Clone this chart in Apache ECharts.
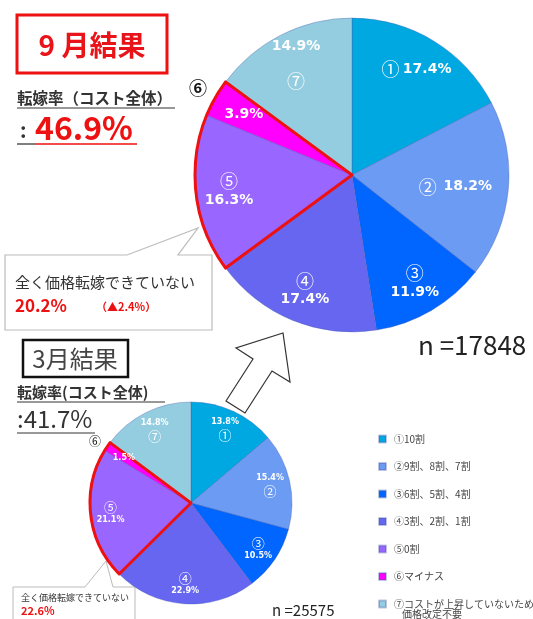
<!DOCTYPE html>
<html>
<head>
<meta charset="utf-8">
<script src="https://cdn.jsdelivr.net/npm/echarts@6/dist/echarts.min.js"></script>
<style>
  html, body { margin: 0; padding: 0; background: #fff; }
  #chart { width: 533px; height: 619px; }
</style>
</head>
<body>
<div id="chart"></div>
<script>
// 区分
const categories = ['①10割', '②9割、8割、7割', '③6割、5割、4割', '④3割、2割、1割', '⑤0割', '⑥マイナス', '⑦コストが上昇していないため価格改定不要']
const marks = ['①', '②', '③', '④', '⑤', '⑥', '⑦']
// 9月結果 (n=17848)
const sepValues = [17.4, 18.2, 11.9, 17.4, 16.3, 3.9, 14.9]
// 3月結果 (n=25575)
const marValues = [13.8, 15.4, 10.5, 22.9, 21.1, 1.5, 14.8]
const colors = ['#00a8e2', '#6b9bf3', '#0066ff', '#6666f0', '#9966ff', '#ff00ff', '#95cde0']

const JP = '"Noto Sans CJK JP", sans-serif'
const LBL = '"DejaVu Sans", "Noto Sans CJK JP", sans-serif'

// label layouts ({c}=丸数字, {p}=percent)
const sepFmt = ['{c|#} {p|%}', '{c|#}  {p|%}', '{c|#}\n{p|%}', '{c|#}\n{p|%}', '{c|#}\n{p|%}', '{p|%}', '{p|%}\n\n{c|#}']
const marFmt = ['{p|%}\n{c|#}', '{p|%}\n{c|#}', '{c|#}\n{p|%}', '{c|#}\n{p|%}', '{c|#}\n{p|%}', '{p|%}', '{p|%}\n{c|#}']

function fillPie(values, center, r) {
  return {
    type: 'pie', center: center, radius: [0, r], silent: true,
    label: { show: false }, labelLine: { show: false },
    itemStyle: { borderColor: 'rgba(70,90,170,0.35)', borderWidth: 1 },
    data: values.map((v, i) => ({ name: categories[i], value: v, itemStyle: { color: colors[i] } }))
  }
}

function labelRing(values, center, r0, r, fmt, ps, cs, shift) {
  return {
    type: 'pie', center: center, radius: [r0, r], silent: true,
    itemStyle: { color: 'rgba(0,0,0,0)' },
    labelLine: { show: false },
    label: {
      show: true, position: 'inside', lineHeight: ps + 2,
      formatter: p => fmt[p.dataIndex].replace('#', marks[p.dataIndex]).replace('%', p.value.toFixed(1) + '%'),
      rich: {
        p: { color: '#fff', fontWeight: 'bold', fontSize: ps, fontFamily: LBL, lineHeight: ps + 3 },
        c: { color: '#fff', fontSize: cs, fontFamily: JP, lineHeight: cs + 2 }
      }
    },
    data: values.map((v, i) => ({
      name: categories[i], value: v,
      label: shift && shift[i] ? { padding: shift[i] } : undefined
    }))
  }
}

// ⑤+⑥ を赤枠で囲む
function outlinePie(values, center, r) {
  const a = values.slice(0, 4).reduce((s, v) => s + v, 0)
  const b = values[4] + values[5]
  return {
    type: 'pie', center: center, radius: [0, r], silent: true,
    label: { show: false }, labelLine: { show: false },
    data: [
      { name: 'o1', value: a, itemStyle: { color: 'rgba(0,0,0,0)', borderWidth: 0 } },
      { name: 'o2', value: b, itemStyle: { color: 'rgba(0,0,0,0)', borderColor: '#ee1111', borderWidth: 3 } },
      { name: 'o3', value: values[6], itemStyle: { color: 'rgba(0,0,0,0)', borderWidth: 0 } }
    ]
  }
}

const bigC = [352, 175], bigR = 157
const smC = [191, 503], smR = 101

let mycharts = echarts.init(document.getElementById('chart'))
let option = {
  backgroundColor: '#fff',
  animation: false,
  legend: {
    orient: 'vertical', left: 373, top: 427,
    itemWidth: 7, itemHeight: 7, itemGap: 13.5,
    icon: 'rect', selectedMode: false,
    formatter: name => name.indexOf('⑦') === 0 ? '⑦コストが上昇していないため' : name,
    textStyle: { fontSize: 10, color: '#444', fontFamily: JP, lineHeight: 14, padding: [0, 0, 0, 3] },
    data: categories.map((c, i) => ({ name: c, itemStyle: { color: colors[i] } }))
  },
  series: [
    fillPie(sepValues, bigC, bigR),
    labelRing(sepValues, bigC, 85, bigR, sepFmt, 14, 18, { 1: [0, 40, 0, 0] }),
    outlinePie(sepValues, bigC, bigR),
    fillPie(marValues, smC, smR),
    labelRing(marValues, smC, 55, smR, marFmt, 8, 13),
    outlinePie(marValues, smC, smR)
  ],
  graphic: [
    // 9月結果
    { type: 'rect', shape: { x: 17, y: 15, width: 150, height: 58 }, style: { fill: 'none', stroke: '#ee1111', lineWidth: 3 } },
    { type: 'text', x: 92, y: 45, style: { text: '9 月結果', font: 'bold 28px ' + JP, fill: '#e8141a', align: 'center', verticalAlign: 'middle' } },
    { type: 'text', x: 17, y: 98, style: { text: '転嫁率（コスト全体）', font: 'bold 15.5px ' + JP, fill: '#333', verticalAlign: 'middle' } },
    { type: 'line', shape: { x1: 17, y1: 108, x2: 175, y2: 108 }, style: { stroke: '#333', lineWidth: 1 } },
    { type: 'text', x: 20, y: 130, style: { text: ':', font: 'bold 20px ' + JP, fill: '#333', verticalAlign: 'middle' } },
    { type: 'text', x: 35, y: 128, style: { text: '46.9%', font: 'bold 32px ' + JP, fill: '#ee1111', verticalAlign: 'middle' } },
    { type: 'line', shape: { x1: 17, y1: 144, x2: 35, y2: 144 }, style: { stroke: '#555', lineWidth: 1.5 } },
    { type: 'line', shape: { x1: 35, y1: 144, x2: 137, y2: 144 }, style: { stroke: '#ee1111', lineWidth: 1.5 } },
    { type: 'text', x: 198, y: 88, style: { text: '⑥', font: 'bold 18px ' + JP, fill: '#111', align: 'center', verticalAlign: 'middle' } },
    // 吹き出し (9月)
    { type: 'polygon', shape: { points: [[5, 255], [127, 255], [198, 228], [178, 255], [212, 255], [212, 330], [5, 330]] }, style: { fill: '#fff', stroke: '#bbb', lineWidth: 1.2 } },
    { type: 'text', x: 15, y: 282, style: { text: '全く価格転嫁できていない', font: '15px ' + JP, fill: '#333', verticalAlign: 'middle' } },
    { type: 'text', x: 15, y: 306, style: { text: '20.2%', font: 'bold 17px ' + JP, fill: '#ee1111', verticalAlign: 'middle' } },
    { type: 'text', x: 96, y: 307, style: { text: '（▲2.4%）', font: 'bold 11px ' + JP, fill: '#ee1111', verticalAlign: 'middle' } },
    { type: 'text', x: 418, y: 345, style: { text: 'n =17848', font: '26px ' + JP, fill: '#222', verticalAlign: 'middle' } },
    // 矢印
    { type: 'polygon', shape: { points: [[283, 333], [290, 382], [272, 371], [245, 413], [226, 401], [253, 359], [236, 348]] }, style: { fill: '#fff', stroke: '#333', lineWidth: 1.2 } },
    // 3月結果
    { type: 'rect', shape: { x: 23, y: 340, width: 105, height: 37 }, style: { fill: 'none', stroke: '#111', lineWidth: 2.5 } },
    { type: 'text', x: 75, y: 359, style: { text: '3月結果', font: '24px ' + JP, fill: '#444', align: 'center', verticalAlign: 'middle' } },
    { type: 'text', x: 17, y: 392, style: { text: '転嫁率(コスト全体)', font: 'bold 15px ' + JP, fill: '#333', verticalAlign: 'middle' } },
    { type: 'line', shape: { x1: 17, y1: 402, x2: 165, y2: 402 }, style: { stroke: '#333', lineWidth: 1 } },
    { type: 'text', x: 17, y: 419, style: { text: ':41.7%', font: '24px ' + JP, fill: '#333', verticalAlign: 'middle' } },
    { type: 'line', shape: { x1: 17, y1: 433, x2: 95, y2: 433 }, style: { stroke: '#333', lineWidth: 1 } },
    { type: 'text', x: 95, y: 441, style: { text: '⑥', font: '12px ' + JP, fill: '#111', align: 'center', verticalAlign: 'middle' } },
    // 吹き出し (3月)
    { type: 'polygon', shape: { points: [[13, 587], [85, 587], [106, 561], [113, 587], [135, 587], [135, 625], [13, 625]] }, style: { fill: '#fff', stroke: '#bbb', lineWidth: 1 } },
    { type: 'text', x: 21, y: 598, style: { text: '全く価格転嫁できていない', font: '9px ' + JP, fill: '#333', verticalAlign: 'middle' } },
    { type: 'text', x: 21, y: 611, style: { text: '22.6%', font: 'bold 11px ' + JP, fill: '#ee1111', verticalAlign: 'middle' } },
    { type: 'text', x: 272, y: 610, style: { text: 'n =25575', font: '15px ' + JP, fill: '#222', verticalAlign: 'middle' } },
    // 凡例⑦の2行目
    { type: 'text', x: 402, y: 614, style: { text: '価格改定不要', font: '10px ' + JP, fill: '#444', verticalAlign: 'middle' } }
  ]
}
mycharts.setOption(option)
window.addEventListener('resize', function() {
  mycharts.resize()
})
</script>
</body>
</html>
